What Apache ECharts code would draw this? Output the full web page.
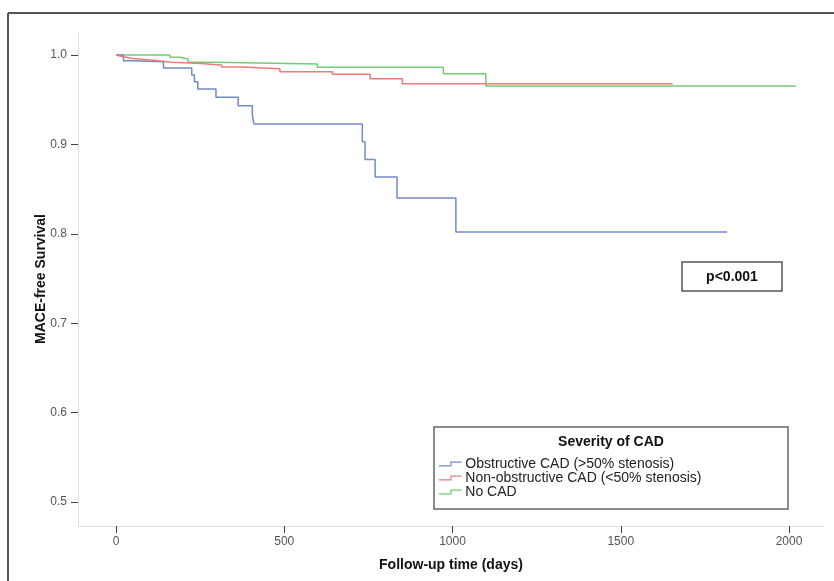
<!DOCTYPE html>
<html>
<head>
<meta charset="utf-8">
<script src="https://cdn.jsdelivr.net/npm/echarts@6/dist/echarts.min.js"></script>
<style>
  html, body { margin: 0; padding: 0; background: #fff; }
  #chart { width: 834px; height: 581px; }
</style>
</head>
<body>
<div id="chart"></div>
<script>
// survival curves (days, survival after each drop)
const obsDays = [0, 22, 50, 141, 225, 233, 243, 297, 363, 405, 410, 732, 740, 770, 835, 1010, 1816]
const obsSurv = [1.0, 0.9935, 0.9925, 0.9855, 0.9776, 0.970, 0.962, 0.9527, 0.9433, 0.933, 0.9228, 0.903, 0.883, 0.8635, 0.840, 0.802, 0.802]

const nonObsDays = [0, 3, 20, 50, 110, 165, 250, 314, 373, 487, 643, 755, 851, 1654]
const nonObsSurv = [1.0, 0.998, 0.996, 0.994, 0.992, 0.9905, 0.9888, 0.9865, 0.9845, 0.9813, 0.9784, 0.9733, 0.9677, 0.9677]

const noCadDays = [0, 160, 190, 214, 294, 598, 973, 1099, 2021]
const noCadSurv = [1.0, 0.9975, 0.9955, 0.992, 0.9899, 0.9864, 0.979, 0.9653, 0.9653]

const seriesNames = ['Obstructive CAD (>50% stenosis)', 'Non-obstructive CAD (<50% stenosis)', 'No CAD']
const xTicks = [0, 500, 1000, 1500, 2000]
const yTicks = [0.5, 0.6, 0.7, 0.8, 0.9, 1.0]

function pairs(xs, ys) {
  let out = []
  for (let i = 0; i < xs.length; i++) {
    out.push([xs[i], ys[i]])
  }
  return out
}

const chart = echarts.init(document.getElementById('chart'))
const narrow = '"Liberation Sans Narrow", "Liberation Sans", sans-serif'
const sans = '"Liberation Sans", Arial, sans-serif'
// step icon for the legend (thin filled band)
const stepIcon = 'path://M0,4 L12,4 L12,0 L24,0 L24,1.3 L13.3,1.3 L13.3,5.3 L0,5.3 Z'

let option = {
  animation: false,
  backgroundColor: '#fff',
  grid: {
    left: 78,
    right: 10,
    top: 32,
    bottom: 55
  },
  xAxis: {
    type: 'value',
    min: -113,
    max: 2104,
    name: 'Follow-up time (days)',
    nameLocation: 'middle',
    nameGap: 32,
    nameMoveOverlap: false,
    nameTextStyle: { fontFamily: sans, fontWeight: 'bold', fontSize: 14, color: '#111' },
    axisLine: { show: true, onZero: false, lineStyle: { color: '#dcdcdc', width: 1 } },
    axisTick: { show: true, length: 7, lineStyle: { color: '#444' }, customValues: xTicks },
    axisLabel: {
      fontFamily: narrow, fontSize: 12, color: '#555', margin: 10,
      customValues: xTicks,
      formatter: v => String(v)
    },
    splitLine: { show: false }
  },
  yAxis: {
    type: 'value',
    min: 0.4732,
    max: 1.0257,
    name: 'MACE-free Survival',
    nameLocation: 'middle',
    nameGap: 30,
    nameMoveOverlap: false,
    nameTextStyle: { fontFamily: sans, fontWeight: 'bold', fontSize: 14, color: '#111' },
    axisLine: { show: true, onZero: false, lineStyle: { color: '#dcdcdc', width: 1 } },
    axisTick: { show: true, length: 7, lineStyle: { color: '#444' }, customValues: yTicks },
    axisLabel: {
      fontFamily: narrow, fontSize: 12, color: '#555', margin: 11,
      customValues: yTicks,
      formatter: v => v.toFixed(1)
    },
    splitLine: { show: false }
  },
  legend: {
    orient: 'vertical',
    left: 439,
    top: 457,
    itemWidth: 24,
    itemHeight: 5,
    itemGap: 0,
    icon: stepIcon,
    padding: 0,
    textStyle: { fontFamily: sans, fontSize: 14, color: '#222', lineHeight: 14, padding: [0, 0, 0, -2] },
    data: seriesNames
  },
  graphic: [
    // outer frame
    { type: 'line', shape: { x1: 8, y1: 13, x2: 834, y2: 13 }, style: { stroke: '#555', lineWidth: 2 } },
    { type: 'line', shape: { x1: 8, y1: 13, x2: 8, y2: 581 }, style: { stroke: '#555', lineWidth: 2 } },
    // p value box
    { type: 'rect', shape: { x: 682, y: 262, width: 100, height: 29 }, style: { fill: '#fff', stroke: '#555', lineWidth: 1.5 } },
    {
      type: 'text', x: 732, y: 277,
      style: { text: 'p<0.001', fontFamily: sans, fontWeight: 'bold', fontSize: 14, fill: '#111', align: 'center', verticalAlign: 'middle' }
    },
    // legend box
    { type: 'rect', z: -1, shape: { x: 434, y: 427, width: 354, height: 82 }, style: { fill: '#fff', stroke: '#666', lineWidth: 1.5 } },
    {
      type: 'text', x: 611, y: 442,
      style: { text: 'Severity of CAD', fontFamily: sans, fontWeight: 'bold', fontSize: 14, fill: '#111', align: 'center', verticalAlign: 'middle' }
    }
  ],
  series: [
    {
      name: seriesNames[0],
      type: 'line',
      step: 'end',
      showSymbol: false,
      color: '#7389c9',
      lineStyle: { width: 1.5 },
      z: 3,
      data: pairs(obsDays, obsSurv)
    },
    {
      name: seriesNames[1],
      type: 'line',
      step: 'end',
      showSymbol: false,
      color: '#f07a7a',
      lineStyle: { width: 1.5 },
      z: 4,
      data: pairs(nonObsDays, nonObsSurv)
    },
    {
      name: seriesNames[2],
      type: 'line',
      step: 'end',
      showSymbol: false,
      color: '#74cc74',
      lineStyle: { width: 1.5 },
      z: 2,
      data: pairs(noCadDays, noCadSurv)
    }
  ]
}
chart.setOption(option)
</script>
</body>
</html>
